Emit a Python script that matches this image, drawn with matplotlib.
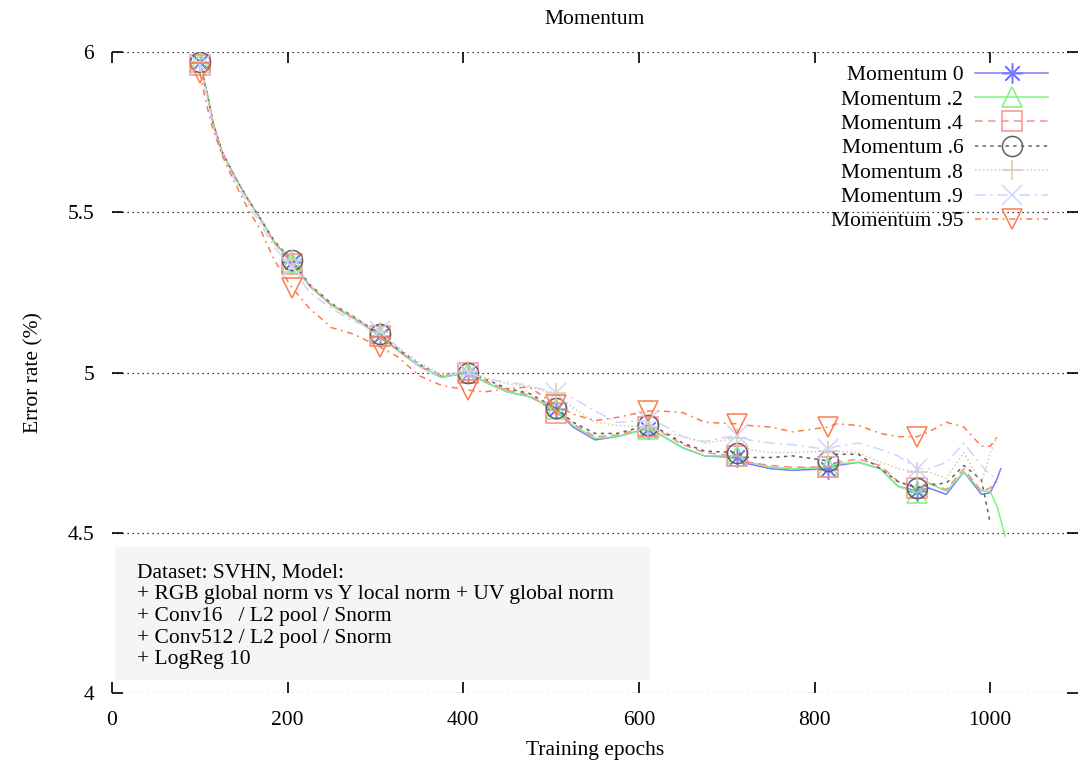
#!/usr/bin/env python3
"""Momentum sweep on SVHN: error rate vs training epochs (gnuplot-style look)."""
import numpy as np
import matplotlib
matplotlib.use("Agg")
import matplotlib.pyplot as plt
from matplotlib.patches import Rectangle

nan = np.nan

# shared epoch grid; markers sit on MARK_EPOCHS
EPOCHS = [100, 105, 110, 115, 125, 140, 155, 170, 185, 205, 225, 250, 275, 305,
          325, 350, 375, 405, 425, 450, 475, 505, 525, 550, 575, 610, 625, 650,
          675, 712, 725, 750, 775, 815, 825, 850, 875, 895, 917, 930, 950, 970,
          990, 1000, 1008, 1012, 1017]
MARK_EPOCHS = [100, 205, 305, 405, 505, 610, 712, 815, 917]

M0 = [5.97, 5.91, 5.85, 5.78, 5.69, 5.61, 5.54, 5.475, 5.405, 5.345, 5.27,
      5.21, 5.17, 5.115, 5.07, 5.02, 4.985, 5.00, 4.97, 4.94, 4.925, 4.885,
      4.83, 4.79, 4.80, 4.825, 4.805, 4.765, 4.74, 4.735, 4.715, 4.70, 4.695,
      4.70, 4.71, 4.72, 4.70, 4.645, 4.63, 4.64, 4.62, 4.69, 4.62, 4.625,
      4.67, 4.70, nan]
M2 = [5.97, 5.91, 5.85, 5.78, 5.69, 5.61, 5.54, 5.475, 5.405, 5.345, 5.27,
      5.21, 5.17, 5.115, 5.07, 5.02, 4.985, 5.00, 4.97, 4.94, 4.925, 4.885,
      4.835, 4.795, 4.80, 4.825, 4.805, 4.765, 4.74, 4.74, 4.72, 4.705, 4.70,
      4.705, 4.715, 4.72, 4.70, 4.645, 4.625, 4.655, 4.63, 4.69, 4.63, 4.63,
      4.58, 4.54, 4.49]
M4 = [5.96, 5.905, 5.845, 5.78, 5.69, 5.61, 5.54, 5.475, 5.405, 5.34, 5.27,
      5.21, 5.17, 5.115, 5.07, 5.02, 4.99, 5.00, 4.975, 4.945, 4.93, 4.875,
      4.84, 4.80, 4.805, 4.83, 4.815, 4.775, 4.75, 4.74, 4.72, 4.71, 4.705,
      4.705, 4.72, 4.73, 4.71, 4.66, 4.64, 4.655, 4.635, 4.70, 4.63, 4.64,
      4.66, nan, nan]
M6 = [5.97, 5.91, 5.85, 5.78, 5.69, 5.61, 5.54, 5.475, 5.41, 5.35, 5.275,
      5.215, 5.175, 5.12, 5.075, 5.025, 4.99, 5.00, 4.98, 4.95, 4.935, 4.89,
      4.845, 4.81, 4.81, 4.835, 4.82, 4.78, 4.755, 4.75, 4.735, 4.735, 4.74,
      4.725, 4.745, 4.745, 4.70, 4.66, 4.64, 4.65, 4.655, 4.71, 4.665, 4.53,
      nan, nan, nan]
M8 = [5.97, 5.91, 5.85, 5.78, 5.69, 5.61, 5.54, 5.475, 5.41, 5.35, 5.275,
      5.215, 5.175, 5.125, 5.08, 5.03, 4.995, 5.005, 4.985, 4.965, 4.955,
      4.935, 4.89, 4.845, 4.835, 4.83, 4.815, 4.80, 4.78, 4.795, 4.76, 4.75,
      4.75, 4.755, 4.755, 4.75, 4.72, 4.70, 4.69, 4.69, 4.67, 4.75, 4.655,
      4.75, 4.80, nan, nan]
M9 = [5.96, 5.90, 5.84, 5.77, 5.68, 5.60, 5.525, 5.46, 5.39, 5.33, 5.25, 5.20,
      5.16, 5.13, 5.08, 5.02, 4.99, 5.00, 4.98, 4.97, 4.96, 4.935, 4.92, 4.88,
      4.845, 4.85, 4.84, 4.80, 4.785, 4.805, 4.79, 4.78, 4.775, 4.76, 4.77,
      4.78, 4.76, 4.74, 4.70, 4.70, 4.72, 4.78, 4.71, 4.68, 4.67, nan, nan]
M95 = [5.935, 5.87, 5.81, 5.76, 5.68, 5.59, 5.51, 5.44, 5.35, 5.265, 5.20,
       5.14, 5.12, 5.08, 5.05, 4.99, 4.96, 4.945, 4.94, 4.95, 4.955, 4.90,
       4.87, 4.85, 4.86, 4.88, 4.88, 4.875, 4.845, 4.84, 4.835, 4.83, 4.815,
       4.83, 4.84, 4.835, 4.81, 4.80, 4.80, 4.815, 4.845, 4.83, 4.77, 4.77,
       4.80, nan, nan]

LABELS = ["Momentum 0", "Momentum .2", "Momentum .4", "Momentum .6",
          "Momentum .8", "Momentum .9", "Momentum .95"]

NOTE = ("Dataset: SVHN, Model:\n"
        "+ RGB global norm vs Y local norm + UV global norm\n"
        "+ Conv16   / L2 pool / Snorm\n"
        "+ Conv512 / L2 pool / Snorm\n"
        "+ LogReg 10")

FS = 15.5
plt.rcParams["font.family"] = ["Liberation Serif", "DejaVu Serif"]
plt.rcParams["font.size"] = FS

# gnuplot-ish styles: colour, dash pattern, marker
styles = [
    ("#7a7aff", "-", (8, 2, 0)),
    ("#7cf57c", "-", "^"),
    ("#ff8c8c", (0, (5, 3.5)), "s"),
    ("#606060", (0, (2.2, 2.8)), "o"),
    ("#d8cca8", (0, (1, 1.6)), "+"),
    ("#cdd4ff", (0, (7, 3, 1.5, 3)), "x"),
    ("#ff7a4a", (0, (4, 3, 1.2, 3)), "v"),
]

fig = plt.figure(figsize=(10.8, 7.65), dpi=100)
ax = fig.add_axes([0.1037, 0.094, 0.8945, 0.838])

x = np.array(EPOCHS, float)
marks = [EPOCHS.index(e) for e in MARK_EPOCHS]
for ys, lab, (col, ls, mk) in zip([M0, M2, M4, M6, M8, M9, M95], LABELS, styles):
    ax.plot(x, np.array(ys, float), color=col, ls=ls, lw=1.1, marker=mk,
            markevery=marks, ms=14.5, mfc="none", mec=col, mew=1.1, label=lab)

ax.set_xlim(0, 1100)
ax.set_ylim(4, 6)
ax.set_xticks([0, 200, 400, 600, 800, 1000])
ax.set_yticks([4, 4.5, 5, 5.5, 6])
ax.set_yticklabels(["4", "4.5", "5", "5.5", "6"])
for s in ax.spines.values():
    s.set_visible(False)
ax.tick_params(direction="in", length=8, width=1.2, top=True, right=True,
               pad=13, labelsize=FS)
ax.grid(axis="y", ls=(0, (1, 3)), color="black", lw=0.9)
ax.set_axisbelow(True)

ax.set_title("Momentum", fontsize=FS, pad=20)
ax.set_xlabel("Training epochs", labelpad=8)
ax.set_ylabel("Error rate (%)", labelpad=17)

ax.add_patch(Rectangle((3, 4.04), 610, 0.415, facecolor="#f5f5f5",
                       edgecolor="none", zorder=0.5))
ax.text(28, 4.405, NOTE, va="top", ha="left", linespacing=1.2, fontsize=FS)

leg = ax.legend(loc="upper right", bbox_to_anchor=(0.978, 0.993), frameon=False,
                markerfirst=False, handlelength=3.4, handletextpad=0.55,
                labelspacing=0.2, borderaxespad=0.0)
for t in leg.get_texts():
    t.set_ha("right")
leg._legend_box.align = "right"

fig.savefig("out.png", dpi=100)
